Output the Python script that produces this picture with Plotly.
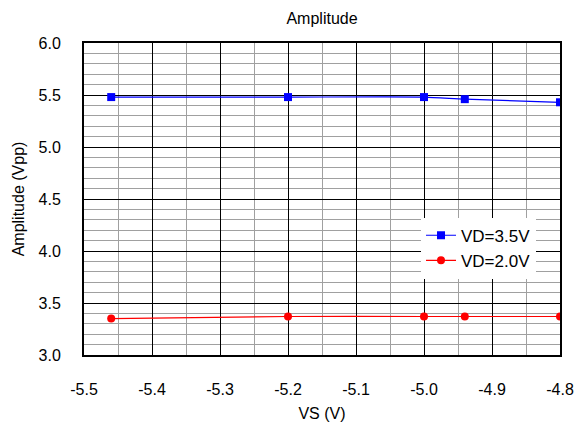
import plotly.graph_objects as go

vs_35 = [-5.46, -5.2, -5.0, -4.94, -4.8]
amp_35 = [5.48, 5.48, 5.48, 5.46, 5.43]
vs_20 = [-5.46, -5.2, -5.0, -4.94, -4.8]
amp_20 = [3.35, 3.37, 3.37, 3.37, 3.37]

x_ticks = [-5.5, -5.4, -5.3, -5.2, -5.1, -5.0, -4.9, -4.8]
y_ticks = [3.0, 3.5, 4.0, 4.5, 5.0, 5.5, 6.0]

fig = go.Figure()
fig.add_trace(go.Scatter(x=vs_35, y=amp_35, name="VD=3.5V", mode="lines+markers",
                         line=dict(color="#0000FF", width=1.2, shape="spline", smoothing=0.6),
                         marker=dict(symbol="square", size=8, color="#0000FF")))
fig.add_trace(go.Scatter(x=vs_20, y=amp_20, name="VD=2.0V", mode="lines+markers",
                         line=dict(color="#FF0000", width=1.2, shape="spline", smoothing=0.6),
                         marker=dict(symbol="circle", size=8, color="#FF0000")))

ff = "Liberation Sans, Arial, sans-serif"
fig.update_layout(
    width=575, height=427,
    margin=dict(l=84, r=15, t=43, b=72, autoexpand=False),
    paper_bgcolor="white", plot_bgcolor="white",
    font=dict(family=ff, size=16, color="#000000"),
    title=dict(text="Amplitude", x=0.5, xref="paper", xanchor="center",
               y=1 - 18 / 427, yref="container", yanchor="middle",
               font=dict(family=ff, size=16)),
    showlegend=True,
    legend=dict(x=0.708, y=0.44, xanchor="left", yanchor="top",
                bgcolor="white", font=dict(family=ff, size=17), tracegroupgap=0,
                itemwidth=30),
)
fig.update_xaxes(
    range=[-5.5, -4.8], tickvals=x_ticks, ticktext=[f"{v:.1f}" for v in x_ticks],
    tickfont=dict(family=ff, size=16), ticklabelstandoff=19,
    showgrid=True, gridcolor="#000000", gridwidth=1,
    minor=dict(dtick=0.05, tick0=-5.5, showgrid=True, gridcolor="#a0a0a0", gridwidth=1),
    showline=True, linecolor="#000000", linewidth=2, mirror=True,
    ticks="", zeroline=False,
    title=dict(text="VS (V)", standoff=11, font=dict(family=ff, size=16)),
)
fig.update_yaxes(
    range=[3.0, 6.0], tickvals=y_ticks, ticktext=[f"{v:.1f}" for v in y_ticks],
    tickfont=dict(family=ff, size=16), ticklabelstandoff=18,
    showgrid=True, gridcolor="#000000", gridwidth=1,
    minor=dict(dtick=0.1, tick0=3.0, showgrid=True, gridcolor="#a0a0a0", gridwidth=1),
    showline=True, linecolor="#000000", linewidth=2, mirror=True,
    ticks="", zeroline=False,
    title=dict(text="Amplitude (Vpp)", standoff=10, font=dict(family=ff, size=16)),
)
fig.write_html("out.html", config={"displayModeBar": False},
               post_script="document.body.style.margin='0';")
